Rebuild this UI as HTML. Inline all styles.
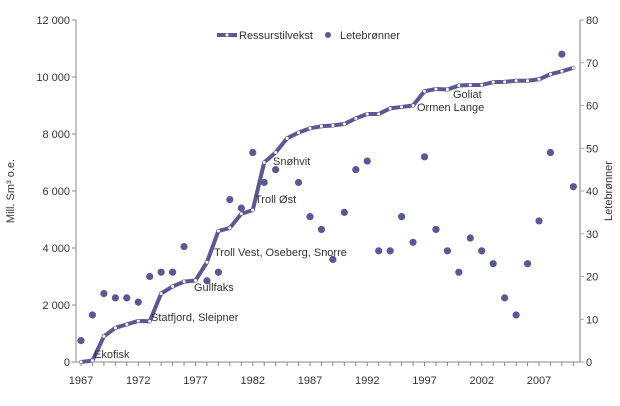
<!DOCTYPE html>
<html><head><meta charset="utf-8"><style>
body{margin:0;background:#fff}
svg{font-family:"Liberation Sans",sans-serif;font-size:11px;fill:#333}
</style></head><body>
<svg id="c" width="620" height="401"></svg>
<script>
const years=[];for(let y=1967;y<=2010;y++)years.push(y);
const ressurs=[0,50,900,1200,1320,1440,1430,2400,2650,2820,2860,3500,4600,4700,5200,5330,7000,7350,7850,8050,8200,8270,8300,8350,8550,8700,8700,8900,8950,9000,9500,9580,9560,9700,9720,9720,9820,9830,9870,9870,9920,10100,10200,10320];
const brønner=[5,11,16,15,15,14,20,21,21,27,null,19,21,38,36,49,42,45,null,42,34,31,24,35,45,47,26,26,34,28,48,31,26,21,29,26,23,15,11,23,33,49,72,41];
const leftTicks=[0,2000,4000,6000,8000,10000,12000];
const rightTicks=[0,10,20,30,40,50,60,70,80];
const xLabels=[1967,1972,1977,1982,1987,1992,1997,2002,2007];
const fields=[["Ekofisk",1968,"Ekofisk"],["Statfjord, Sleipner",1973],["Gullfaks",1977],["Troll Vest, Oseberg, Snorre",1978],["Troll Øst",1982],["Snøhvit",1983],["Ormen Lange",1996],["Goliat",1998]];
const col="#5b5896";
const svg=document.getElementById('c');const NS="http://www.w3.org/2000/svg";
const x=y=>81+(y-1967)*11.45;
const yl=v=>362-v*342/12000;
const yr=v=>362-v*342/80;
function el(t,a,p){const e=document.createElementNS(NS,t);for(const k in a)e.setAttribute(k,a[k]);(p||svg).appendChild(e);return e;}
function tx(s,a){const e=el('text',a);e.textContent=s;return e;}
// axes
let ax=el('line',{x1:76,y1:20,x2:76,y2:362,stroke:'#888'});
ax=el('line',{x1:580,y1:20,x2:580,y2:362,stroke:'#aaa','stroke-width':1.5});
ax=el('line',{x1:76,y1:362,x2:580,y2:362,stroke:'#888'});
leftTicks.forEach(v=>{el('line',{x1:72,x2:76,y1:yl(v),y2:yl(v),stroke:'#888'});const t=tx(v===0?'0':v.toLocaleString('en').replace(',',' '),{x:70,y:yl(v)+4,'text-anchor':'end'});});
rightTicks.forEach(v=>{el('line',{x1:580,x2:584,y1:yr(v),y2:yr(v),stroke:'#aaa'});const t=tx(String(v),{x:586,y:yr(v)+4});});
years.forEach(y=>el('line',{x1:x(y),x2:x(y),y1:362,y2:366,stroke:'#888'}));
xLabels.forEach(y=>{const t=tx(String(y),{x:x(y),y:384,'text-anchor':'middle'});});
let t=tx('Mill. Sm³ o.e.',{x:0,y:0,transform:'translate(14,191) rotate(-90)','text-anchor':'middle'});
t=tx('Letebrønner',{x:0,y:0,transform:'translate(612,191) rotate(-90)','text-anchor':'middle'});
// dots
years.forEach((y,i)=>{if(brønner[i]==null)return;const c=el('circle',{cx:x(y),cy:yr(brønner[i]),r:3.6,fill:col});});
// line
const p=el('polyline',{points:years.map((y,i)=>x(y)+','+yl(ressurs[i])).join(' '),fill:'none',stroke:col,'stroke-width':4,'stroke-linejoin':'round'});

years.forEach((y,i)=>{const c=el('circle',{cx:x(y),cy:yl(ressurs[i]),r:1.8,fill:'#fff',stroke:col,'stroke-width':0.6});});
// field labels
const pos={"Ekofisk":[94,358],"Statfjord, Sleipner":[151,321],"Gullfaks":[194,291],"Troll Vest, Oseberg, Snorre":[214,256],"Troll Øst":[255,203],"Snøhvit":[273,165],"Ormen Lange":[417,111],"Goliat":[453,98]};
fields.forEach(f=>{const q=pos[f[0]];const e=tx(f[0],{x:q[0],y:q[1]});});
// legend
const g=el('g',{});
el('line',{x1:217,x2:237,y1:35,y2:35,stroke:col,'stroke-width':4},g);
el('circle',{cx:227,cy:35,r:1.8,fill:'#fff',stroke:col,'stroke-width':0.6},g);
const l1=document.createElementNS(NS,'text');l1.setAttribute('x',239);l1.setAttribute('y',39);l1.textContent='Ressurstilvekst';g.appendChild(l1);
el('circle',{cx:328,cy:35,r:3,fill:col},g);
const l2=document.createElementNS(NS,'text');l2.setAttribute('x',340);l2.setAttribute('y',39);l2.textContent='Letebrønner';g.appendChild(l2);
</script>
</body></html>
